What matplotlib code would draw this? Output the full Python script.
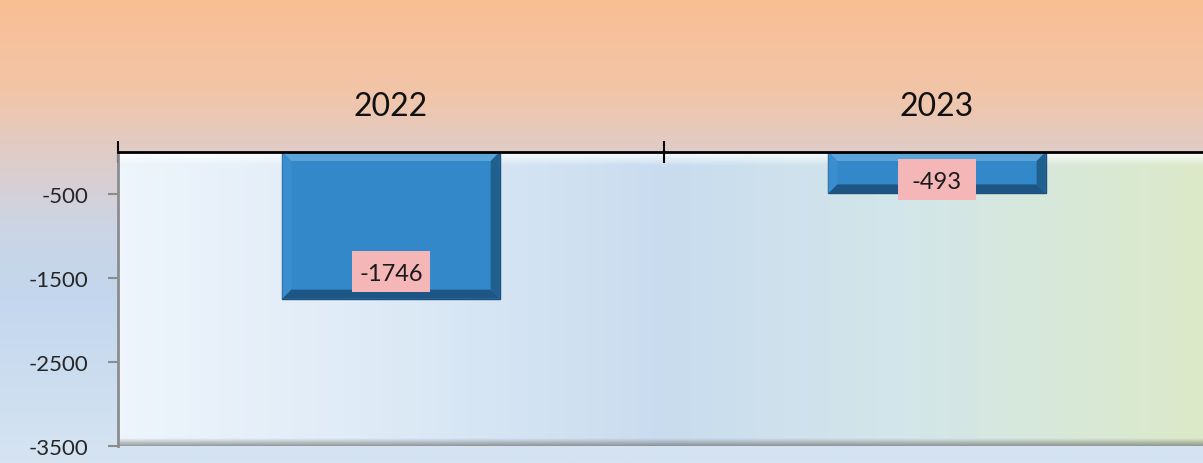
import numpy as np
import matplotlib
matplotlib.use("Agg")
import matplotlib.pyplot as plt
from matplotlib.colors import LinearSegmentedColormap
from matplotlib.patches import Polygon, Rectangle

# ---- data ----
categories = ["2022", "2023"]
values = [-1746, -493]
yticks = [-500, -1500, -2500, -3500]

plt.rcParams['font.family'] = ['Lato', 'DejaVu Sans']

W, H = 1203, 464
fig = plt.figure(figsize=(W / 100, H / 100), dpi=100)

# figure background gradient (vertical)
bg = fig.add_axes([0, 0, 1, 1], zorder=-10)
bg_cmap = LinearSegmentedColormap.from_list(
    "bg", [(0.0, "#F9BF94"), (0.2, "#F2C5A8"), (0.33, "#E0CCC8"),
           (0.5, "#CBD5E6"), (0.65, "#C3D7EE"), (1.0, "#D6E4F2")])
grad = np.linspace(0, 1, 256).reshape(-1, 1)
bg.imshow(grad, aspect="auto", cmap=bg_cmap, extent=[0, 1, 0, 1], origin="upper")
bg.set_axis_off()

left, right = 118 / W, 1210 / W
top, bottom = 1 - 153 / H, 1 - 447 / H
ax = fig.add_axes([left, bottom, right - left, top - bottom])
ax.patch.set_visible(False)

xlo, xhi = -0.5, len(categories) - 0.5
ylo, yhi = -3500, 0
ax.set_xlim(xlo, xhi)
ax.set_ylim(ylo, yhi)

# plot-area gradient (horizontal)
pa_cmap = LinearSegmentedColormap.from_list(
    "pa", [(0.0, "#EEF5FC"), (0.25, "#DDEAF6"), (0.5, "#C9DCEF"),
           (0.72, "#D3E6EA"), (1.0, "#DCEAC8")])
hgrad = np.linspace(0, 1, 256).reshape(1, -1)
ax.imshow(hgrad, aspect="auto", cmap=pa_cmap, extent=[xlo, xhi, ylo, yhi], zorder=0)

# plot-area bevel: white top band and grey bottom shadow
px_x = (xhi - xlo) / ((right - left) * W)
px_y = (yhi - ylo) / ((top - bottom) * H)
white = np.zeros((32, 1, 4))
white[..., :3] = 1.0
white[:, 0, 3] = np.linspace(0.95, 0.0, 32)
ax.imshow(white, aspect="auto", extent=[xlo, xhi, yhi - 14 * px_y, yhi], zorder=1)
shadow = np.zeros((32, 1, 4))
shadow[..., :3] = 0.45
shadow[:, 0, 3] = np.linspace(0.0, 0.7, 32)
ax.imshow(shadow, aspect="auto", extent=[xlo, xhi, ylo, ylo + 8 * px_y], zorder=1)

# bars with bevel
x = np.arange(len(categories))
bw = 0.398
ax.bar(x, values, width=bw, color="#3288C9", edgecolor="#1E4F78", linewidth=1.0, zorder=3)
bx = 9 * px_x
by = 9 * px_y
for xi, v in zip(x, values):
    x0, x1 = xi - bw / 2, xi + bw / 2
    y0, y1 = 0, v
    ax.add_patch(Polygon([(x0, y0), (x1, y0), (x1 - bx, y0 - by), (x0 + bx, y0 - by)],
                         closed=True, facecolor="#5BA4DA", edgecolor="none", zorder=4))
    ax.add_patch(Polygon([(x0, y0), (x0 + bx, y0 - by), (x0 + bx, y1 + by), (x0, y1)],
                         closed=True, facecolor="#3A8ED0", edgecolor="none", zorder=4))
    ax.add_patch(Polygon([(x1, y0), (x1 - bx, y0 - by), (x1 - bx, y1 + by), (x1, y1)],
                         closed=True, facecolor="#20608F", edgecolor="none", zorder=4))
    ax.add_patch(Polygon([(x0, y1), (x1, y1), (x1 - bx, y1 + by), (x0 + bx, y1 + by)],
                         closed=True, facecolor="#1D5684", edgecolor="none", zorder=4))

# data labels with pink boxes (box 78 x 41 px)
label_offsets = [27, 14]  # pixels above the bar end
box_w, box_h = 78, 41
for xi, v, off in zip(x, values, label_offsets):
    cy = v + off * px_y
    ax.add_patch(Rectangle((xi - box_w / 2 * px_x, cy - box_h / 2 * px_y),
                           box_w * px_x, box_h * px_y, facecolor="#F4B6B6",
                           edgecolor="none", zorder=5))
    ax.text(xi, cy, f"{v}", ha="center", va="center_baseline", fontsize=17,
            color="#1A1A1A", zorder=6)

# axes styling
for s in ["right", "bottom"]:
    ax.spines[s].set_visible(False)
ax.spines["top"].set_color("black")
ax.spines["top"].set_linewidth(2)
ax.spines["top"].set_zorder(7)
ax.spines["left"].set_color("#8C8C8C")
ax.spines["left"].set_linewidth(2)

ax.xaxis.tick_top()
ax.set_xticks(np.arange(xlo, xhi + 0.01, 1.0))
ax.set_xticklabels([])
ax.set_xticks(x, minor=True)
ax.set_xticklabels(categories, minor=True, fontsize=23, color="#111111")
ax.tick_params(axis="x", which="major", direction="inout", length=16, width=1.5, color="black")
ax.tick_params(axis="x", which="minor", length=0, pad=22)

ax.set_yticks(yticks)
ax.set_yticklabels([str(t) for t in yticks], fontsize=16, color="#262626")
ax.tick_params(axis="y", direction="out", length=7, width=1.5, color="#8C8C8C", pad=14)

fig.savefig("out.png", dpi=100)
